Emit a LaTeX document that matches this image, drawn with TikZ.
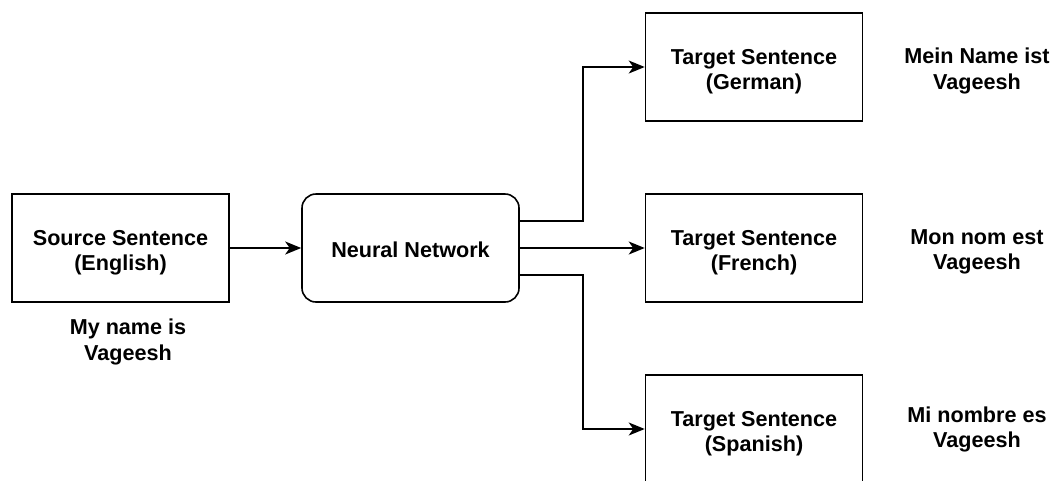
\documentclass[tikz,border=0pt]{standalone}
\usepackage{fontspec}
\setmainfont{Liberation Sans}
\usetikzlibrary{arrows.meta}

\begin{document}
\begin{tikzpicture}[x=1pt,y=-1pt,line width=1.6pt,
	box/.style={draw,minimum width=217pt,minimum height=108pt},
	label/.style={align=center},
	arr/.style={-{Stealth[length=16pt,width=13pt,inset=4.5pt]}},
	every node/.style={font=\bfseries\fontsize{21.6}{25.5}\selectfont}]
	\useasboundingbox (0,0) rectangle (1052,480);
	
	% boxes
	\node[box] (src) at (120.5,248) {};
	\node[box,rounded corners=14pt] (nn) at (410.5,248) {};
	\node[box] (de) at (754,67) {};
	\node[box] (fr) at (754,248) {};
	\node[box] (es) at (754,429) {};
	
	% box texts
	\node[label] (srcname) at ([yshift=-4.5pt]src.center) {Source Sentence\\(English)};
	\node[label] (nnname) at ([yshift=-2pt]nn.center) {Neural Network};
	\node[label] (dename) at ([yshift=-4.5pt]de.center) {Target Sentence\\(German)};
	\node[label] (frname) at ([yshift=-4.5pt]fr.center) {Target Sentence\\(French)};
	\node[label] (esname) at ([yshift=-4.5pt]es.center) {Target Sentence\\(Spanish)};
	
	% sentences
	\node[label] (srctxt) at (128,342) {My name is\\Vageesh};
	\node[label] (detxt) at (977,71) {Mein Name ist\\Vageesh};
	\node[label] (frtxt) at (977,252) {Mon nom est\\Vageesh};
	\node[label] (estxt) at (977,429.5) {Mi nombre es\\Vageesh};
	
	\draw[arr] (src) -- (nn);
	\draw[arr] ([yshift=27pt]nn.east) -- ++(63,0) |- (de.west);
	\draw[arr] (nn) -- (fr);
	\draw[arr] ([yshift=-27pt]nn.east) -- ++(63,0) |- (es.west);
\end{tikzpicture}
\end{document}
